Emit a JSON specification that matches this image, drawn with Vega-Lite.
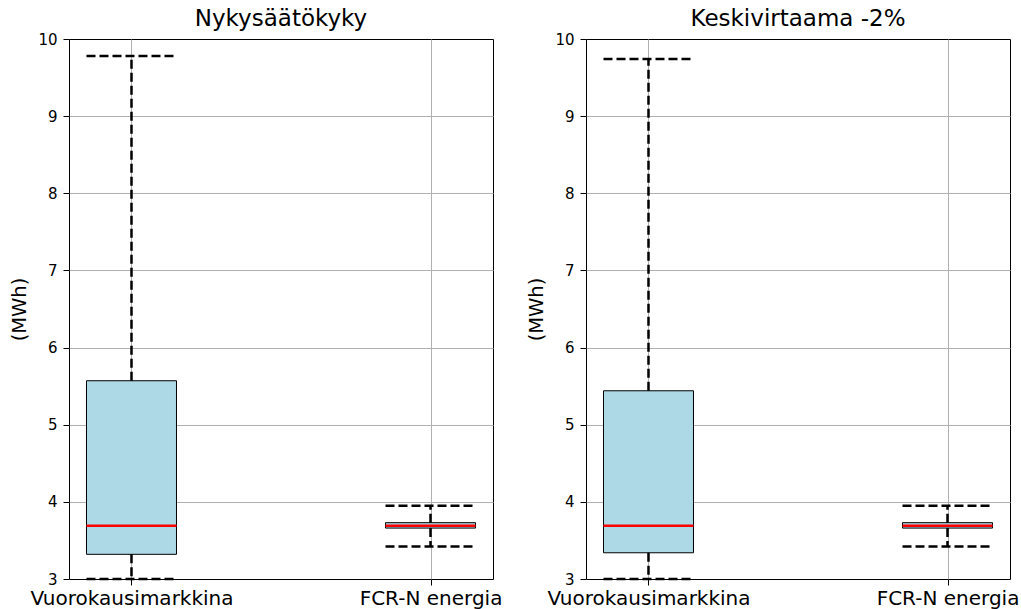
{
  "$schema": "https://vega.github.io/schema/vega-lite/v6.json",
  "padding": {"left": 9, "top": 8, "right": 5, "bottom": 5},
  "background": "white",
  "config": {
    "font": "DejaVu Sans",
    "view": {"stroke": "black", "strokeWidth": 1},
    "axis": {
      "zindex": 1,
      "domain": false,
      "grid": true,
      "gridColor": "#b0b0b0",
      "gridWidth": 1,
      "tickColor": "black",
      "tickSize": 6,
      "tickWidth": 1,
      "labelColor": "black",
      "titleColor": "black",
      "titleFontWeight": "normal"
    }
  },
  "data": {
    "values": [
      {"panel": "Nykysäätökyky", "cat": "Vuorokausimarkkina", "lo": 3.0, "q1": 3.32, "med": 3.69, "q3": 5.57, "hi": 9.78},
      {"panel": "Nykysäätökyky", "cat": "FCR-N energia", "lo": 3.42, "q1": 3.66, "med": 3.69, "q3": 3.73, "hi": 3.95},
      {"panel": "Keskivirtaama -2%", "cat": "Vuorokausimarkkina", "lo": 3.0, "q1": 3.34, "med": 3.69, "q3": 5.44, "hi": 9.74},
      {"panel": "Keskivirtaama -2%", "cat": "FCR-N energia", "lo": 3.42, "q1": 3.66, "med": 3.69, "q3": 3.73, "hi": 3.95}
    ]
  },
  "facet": {
    "column": {
      "field": "panel",
      "type": "nominal",
      "sort": ["Nykysäätökyky", "Keskivirtaama -2%"],
      "header": {"title": null, "labelFontSize": 23, "labelColor": "black", "labelPadding": 0, "labelFont": "DejaVu Sans"}
    }
  },
  "spacing": 23,
  "resolve": {"axis": {"y": "independent", "x": "independent"}},
  "spec": {
    "width": 424,
    "height": 540,
    "encoding": {
      "x": {
        "field": "cat",
        "type": "nominal",
        "sort": ["Vuorokausimarkkina", "FCR-N energia"],
        "scale": {"type": "point", "padding": 0.209},
        "axis": {"title": null, "labelAngle": 0, "labelFontSize": 20, "labelPadding": 3, "labelLimit": 0}
      }
    },
    "layer": [
      {
        "mark": {"type": "rect", "xOffset": -45, "x2Offset": 45, "fill": "#add8e6", "stroke": "black", "strokeWidth": 1},
        "encoding": {
          "x2": {"field": "cat"},
          "y": {
            "field": "q1",
            "type": "quantitative",
            "scale": {"domain": [3, 10], "nice": false, "zero": false},
            "axis": {
              "title": "(MWh)",
              "titleFontSize": 19.5,
              "titlePadding": 8,
              "labelFontSize": 15,
              "labelPadding": 6,
              "format": "d",
              "values": [3, 4, 5, 6, 7, 8, 9, 10],
              "gridOpacity": {"condition": {"test": "datum.value <= 3 || datum.value >= 10", "value": 0}, "value": 1}
            }
          },
          "y2": {"field": "q3"}
        }
      },
      {
        "mark": {"type": "rule", "stroke": "black", "strokeWidth": 2.5, "strokeDash": [9, 4]},
        "encoding": {"y": {"field": "q3", "type": "quantitative"}, "y2": {"field": "hi"}}
      },
      {
        "mark": {"type": "rule", "stroke": "black", "strokeWidth": 2.5, "strokeDash": [9, 4]},
        "encoding": {"y": {"field": "q1", "type": "quantitative"}, "y2": {"field": "lo"}}
      },
      {
        "mark": {"type": "rule", "stroke": "black", "strokeWidth": 2.5, "strokeDash": [9, 4], "xOffset": -45, "x2Offset": 45},
        "encoding": {"x2": {"field": "cat"}, "y": {"field": "hi", "type": "quantitative"}}
      },
      {
        "mark": {"type": "rule", "stroke": "black", "strokeWidth": 2.5, "strokeDash": [9, 4], "xOffset": -45, "x2Offset": 45},
        "encoding": {"x2": {"field": "cat"}, "y": {"field": "lo", "type": "quantitative"}}
      },
      {
        "mark": {"type": "rule", "stroke": "red", "strokeWidth": 2.5, "xOffset": -45, "x2Offset": 45},
        "encoding": {"x2": {"field": "cat"}, "y": {"field": "med", "type": "quantitative"}}
      }
    ]
  }
}
